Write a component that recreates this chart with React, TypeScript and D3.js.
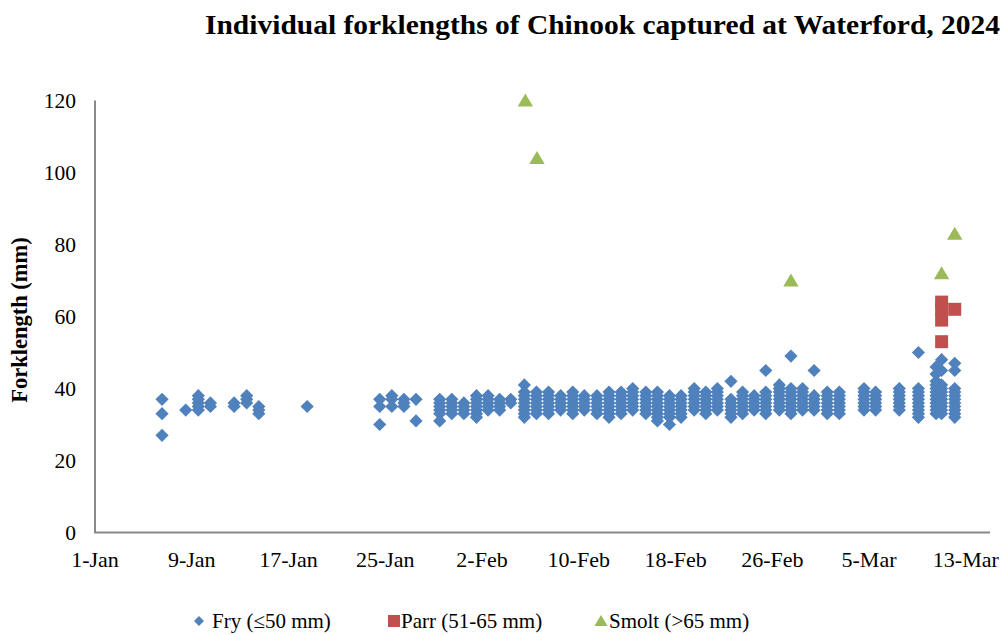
import React from "react";
import * as d3 from "d3";

// ---- Data ----
const TITLE = "Individual forklengths of Chinook captured at Waterford, 2024";
const Y_LABEL = "Forklength (mm)";

const xTickDates = ["2024-01-01", "2024-01-09", "2024-01-17", "2024-01-25", "2024-02-02", "2024-02-10", "2024-02-18", "2024-02-26", "2024-03-05", "2024-03-13"];
const xTickLabels = ["1-Jan", "9-Jan", "17-Jan", "25-Jan", "2-Feb", "10-Feb", "18-Feb", "26-Feb", "5-Mar", "13-Mar"];
const yTicks = [0, 20, 40, 60, 80, 100, 120];
const xDomain = ["2024-01-01 00:00", "2024-03-15 00:00"];

const fryCatches = [
  { date: "2024-01-06 13:00", lengths: [37, 33, 27] },
  { date: "2024-01-08 12:00", lengths: [34] },
  { date: "2024-01-09 13:00", lengths: [38, 37, 36, 35, 34] },
  { date: "2024-01-10 13:00", lengths: [36, 35] },
  { date: "2024-01-12 12:00", lengths: [36, 35] },
  { date: "2024-01-13 13:00", lengths: [38, 37, 36] },
  { date: "2024-01-14 13:00", lengths: [35, 34, 33] },
  { date: "2024-01-18 13:00", lengths: [35] },
  { date: "2024-01-24 13:00", lengths: [37, 35, 30] },
  { date: "2024-01-25 13:00", lengths: [38, 37, 35] },
  { date: "2024-01-26 13:00", lengths: [37, 36, 35] },
  { date: "2024-01-27 13:00", lengths: [37, 31] },
  { date: "2024-01-29 12:00", lengths: [37, 36, 35, 34, 33, 31] },
  { date: "2024-01-30 12:00", lengths: [37, 36, 35, 34, 33] },
  { date: "2024-01-31 12:00", lengths: [36, 35, 34, 33] },
  { date: "2024-02-01 13:00", lengths: [38, 37, 36, 35, 34, 33, 32] },
  { date: "2024-02-02 12:00", lengths: [38, 37, 36, 35, 34] },
  { date: "2024-02-03 11:00", lengths: [37, 36, 35, 34] },
  { date: "2024-02-04 09:00", lengths: [37, 36] },
  { date: "2024-02-05 12:00", lengths: [41, 39, 38, 37, 36, 35, 34, 33, 32] },
  { date: "2024-02-06 12:00", lengths: [39, 38, 37, 36, 35, 34, 33] },
  { date: "2024-02-07 12:00", lengths: [39, 38, 37, 36, 35, 34, 33] },
  { date: "2024-02-08 12:00", lengths: [38, 37, 36, 35, 34] },
  { date: "2024-02-09 12:00", lengths: [39, 38, 37, 36, 35, 34, 33] },
  { date: "2024-02-10 11:00", lengths: [38, 37, 36, 35, 34] },
  { date: "2024-02-11 12:00", lengths: [38, 37, 36, 35, 34, 33] },
  { date: "2024-02-12 12:00", lengths: [39, 38, 37, 36, 35, 34, 33, 32] },
  { date: "2024-02-13 12:00", lengths: [39, 38, 37, 36, 35, 34, 33] },
  { date: "2024-02-14 11:00", lengths: [40, 39, 38, 37, 36, 35, 34] },
  { date: "2024-02-15 13:00", lengths: [39, 38, 37, 36, 35, 34, 33] },
  { date: "2024-02-16 12:00", lengths: [39, 38, 37, 36, 35, 34, 33, 32, 31] },
  { date: "2024-02-17 12:00", lengths: [38, 37, 36, 35, 34, 33, 32, 30] },
  { date: "2024-02-18 11:00", lengths: [38, 37, 36, 35, 34, 33, 32] },
  { date: "2024-02-19 13:00", lengths: [40, 39, 38, 37, 36, 35, 34] },
  { date: "2024-02-20 12:00", lengths: [39, 38, 37, 36, 35, 34, 33] },
  { date: "2024-02-21 11:00", lengths: [40, 39, 38, 37, 36, 35, 34] },
  { date: "2024-02-22 14:00", lengths: [42, 37, 36, 35, 34, 33, 32] },
  { date: "2024-02-23 13:00", lengths: [39, 38, 37, 36, 35, 34, 33] },
  { date: "2024-02-24 12:00", lengths: [38, 37, 36, 35, 34] },
  { date: "2024-02-25 11:00", lengths: [45, 39, 38, 37, 36, 35, 34, 33] },
  { date: "2024-02-26 14:00", lengths: [41, 40, 39, 38, 37, 36, 35, 34] },
  { date: "2024-02-27 13:00", lengths: [49, 40, 39, 38, 37, 36, 35, 34, 33] },
  { date: "2024-02-28 12:00", lengths: [40, 39, 38, 37, 36, 35, 34] },
  { date: "2024-02-29 11:00", lengths: [45, 38, 37, 36, 35, 34] },
  { date: "2024-03-01 13:00", lengths: [39, 38, 37, 36, 35, 34, 33] },
  { date: "2024-03-02 13:00", lengths: [39, 38, 37, 36, 35, 34, 33] },
  { date: "2024-03-04 14:00", lengths: [40, 39, 38, 37, 36, 35, 34] },
  { date: "2024-03-05 13:00", lengths: [39, 38, 37, 36, 35, 34] },
  { date: "2024-03-07 12:00", lengths: [40, 39, 38, 37, 36, 35, 34] },
  { date: "2024-03-09 02:00", lengths: [50, 40, 39, 38, 37, 36, 35, 34, 33, 32] },
  { date: "2024-03-10 13:00", lengths: [46, 44, 42, 41, 40, 39, 38, 37, 36, 35, 34, 33] },
  { date: "2024-03-11 00:00", lengths: [48, 45, 41, 40, 39, 38, 37, 36, 35, 34, 33] },
  { date: "2024-03-12 02:00", lengths: [47, 45, 40, 39, 38, 37, 36, 35, 34, 33, 32] },
];

const parrCatches = [
  { date: "2024-03-11 00:00", lengths: [64, 62, 59, 53] },
  { date: "2024-03-12 02:00", lengths: [62] },
];

const smoltCatches = [
  { date: "2024-02-05 14:00", lengths: [120] },
  { date: "2024-02-06 13:00", lengths: [104] },
  { date: "2024-02-27 13:00", lengths: [70] },
  { date: "2024-03-11 00:00", lengths: [72] },
  { date: "2024-03-12 02:00", lengths: [83] },
];

const legendItems = [
  { key: "fry", label: "Fry (\u226450 mm)" },
  { key: "parr", label: "Parr (51-65 mm)" },
  { key: "smolt", label: "Smolt (>65 mm)" },
];

// ---- Styles ----
const COLORS: Record<string, string> = { fry: "#4F81BD", parr: "#C0504D", smolt: "#9BBB59" };
const SERIF = "'Liberation Serif', 'Times New Roman', serif";

const parseDT = d3.timeParse("%Y-%m-%d %H:%M");
const parseD = d3.timeParse("%Y-%m-%d");

function flatten(catches: { date: string; lengths: number[] }[]) {
  const out: { t: Date; v: number }[] = [];
  catches.forEach((c) => c.lengths.forEach((v) => out.push({ t: parseDT(c.date) as Date, v })));
  return out;
}

function markerPath(kind: string, cx: number, cy: number, s: number) {
  const p = d3.path();
  if (kind === "fry") {
    p.moveTo(cx, cy - s);
    p.lineTo(cx + s, cy);
    p.lineTo(cx, cy + s);
    p.lineTo(cx - s, cy);
    p.closePath();
  } else if (kind === "parr") {
    p.rect(cx - s, cy - s, 2 * s, 2 * s);
  } else {
    p.moveTo(cx, cy - s);
    p.lineTo(cx + s * 1.1, cy + s * 0.85);
    p.lineTo(cx - s * 1.1, cy + s * 0.85);
    p.closePath();
  }
  return p.toString();
}

export default function App() {
  const W = 1006;
  const H = 635;
  const x = d3
    .scaleTime()
    .domain([parseDT(xDomain[0]) as Date, parseDT(xDomain[1]) as Date])
    .range([95, 990]);
  const y = d3.scaleLinear().domain([0, 120]).range([532.5, 100.5]);

  const series = [
    { key: "fry", pts: flatten(fryCatches), s: 6.6 },
    { key: "parr", pts: flatten(parrCatches), s: 6.5 },
    { key: "smolt", pts: flatten(smoltCatches), s: 7 },
  ];

  const legendX = [199, 394, 601];
  const legendTextX = [212, 401, 609];

  return (
    <svg
      width={W}
      height={H}
      style={{ position: "absolute", left: 0, top: 0, background: "#fff" }}
      fontFamily={SERIF}
    >
      <rect x={0} y={0} width={W} height={H} fill="#fff" />
      <text
        x={205}
        y={34}
        textAnchor="start"
        fontWeight="bold"
        fontSize={28}
        textLength={795}
        lengthAdjust="spacingAndGlyphs"
        fill="#000"
      >
        {TITLE}
      </text>

      {/* Y tick labels */}
      {yTicks.map((t) => (
        <text key={t} x={76} y={y(t)} dy="0.35em" textAnchor="end" fontSize={21.5} fill="#000">
          {t}
        </text>
      ))}
      {/* X tick labels */}
      {xTickDates.map((d, i) => (
        <text key={d} x={x(parseD(d) as Date)} y={567} textAnchor="middle" fontSize={22} fill="#000">
          {xTickLabels[i]}
        </text>
      ))}

      <text
        transform={`translate(27,${320}) rotate(-90)`}
        textAnchor="middle"
        fontWeight="bold"
        fontSize={22.5}
        fill="#000"
      >
        {Y_LABEL}
      </text>

      {/* Axes */}
      <line x1={95} x2={95} y1={y(120)} y2={y(0)} stroke="#898989" strokeWidth={2} />
      <line x1={94} x2={990} y1={y(0)} y2={y(0)} stroke="#898989" strokeWidth={2} />

      {/* Markers */}
      {series.map((s) => (
        <g key={s.key} fill={COLORS[s.key]}>
          {s.pts.map((p, i) => (
            <path key={i} d={markerPath(s.key, x(p.t), y(p.v), s.s)} />
          ))}
        </g>
      ))}

      {/* Legend */}
      {legendItems.map((it, i) => (
        <g key={it.key}>
          <path d={markerPath(it.key, legendX[i], 621, it.key === "fry" ? 5 : 6)} fill={COLORS[it.key]} />
          <text x={legendTextX[i]} y={628} fontSize={21} fill="#000">
            {it.label}
          </text>
        </g>
      ))}
    </svg>
  );
}
